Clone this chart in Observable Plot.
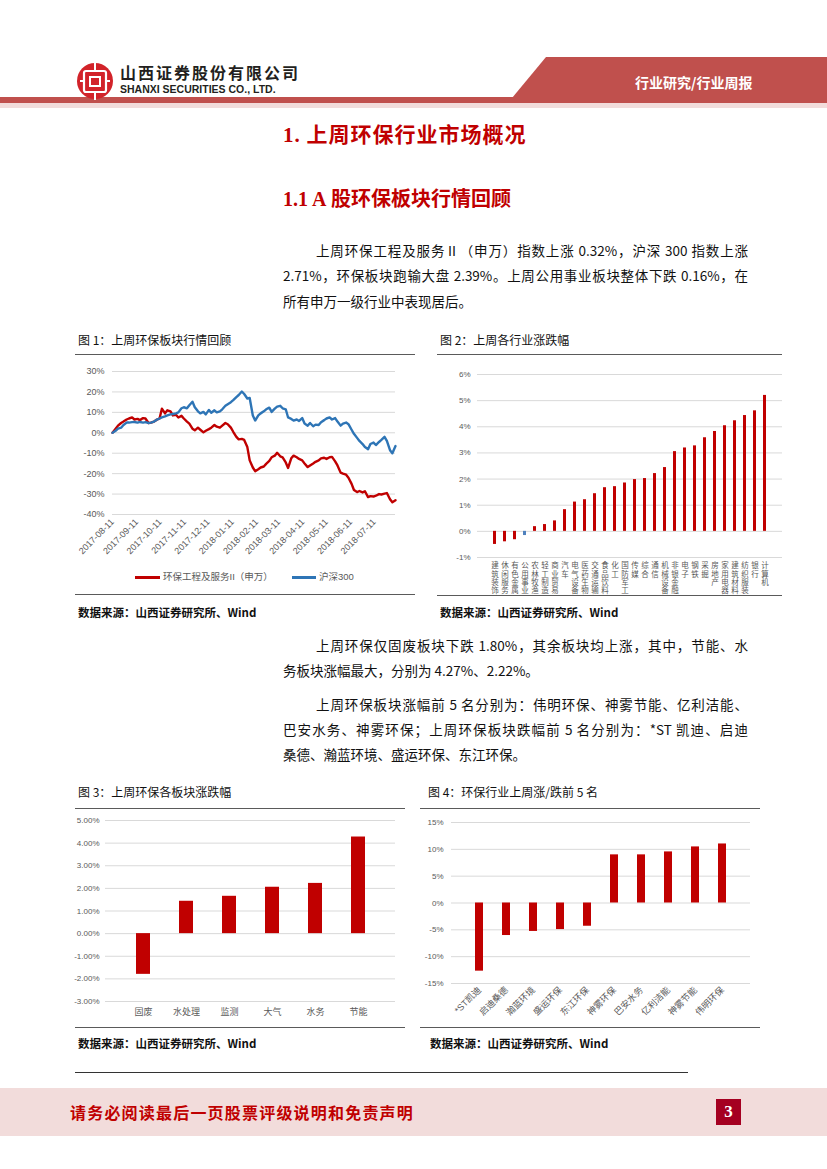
<!DOCTYPE html>
<html><head><meta charset="utf-8">
<script src="https://cdn.jsdelivr.net/npm/d3@7"></script>
<script src="https://cdn.jsdelivr.net/npm/@observablehq/plot@0.6"></script>
<style>
body{margin:0;background:#fff;}
#page{position:relative;width:827px;height:1169px;overflow:hidden;font-family:"Noto Sans CJK SC",sans-serif;background:#fff;}
.abs{position:absolute;white-space:nowrap;}
.p{position:absolute;font-size:13.5px;line-height:16px;height:16px;color:#111;white-space:nowrap;}
.j{text-align:justify;text-align-last:justify;}
.cap{position:absolute;font-size:12px;line-height:14px;color:#111;white-space:nowrap;}
.src{position:absolute;font-size:11.5px;line-height:14px;color:#111;white-space:nowrap;font-weight:bold;}
.hl{position:absolute;height:0;border-top:1.6px solid #5a5a5a;}
.chart{position:absolute;}
.leg{position:absolute;font-family:"Liberation Sans","Noto Sans CJK SC",sans-serif;font-size:9.5px;line-height:12px;color:#595959;white-space:nowrap;}
</style></head>
<body><div id="page">

<!-- header -->
<svg class="abs" style="left:0;top:0" width="827" height="115">
  <polygon points="546,57 827,57 827,98 512,98" fill="#c0504d"/>
  <rect x="0" y="97" width="827" height="6" fill="#c0504d"/>
  <rect x="0" y="103" width="827" height="5" fill="#f2dcdb"/>
  <circle cx="95" cy="81" r="18" fill="#d2232a"/>
  <rect x="84" y="71" width="22" height="21" rx="2" fill="none" stroke="#fff" stroke-width="2.2"/>
  <rect x="90" y="77" width="10" height="9" fill="none" stroke="#fff" stroke-width="2"/>
  <line x1="95" y1="62" x2="95" y2="71" stroke="#fff" stroke-width="2"/>
  <line x1="95" y1="92" x2="95" y2="100" stroke="#fff" stroke-width="2"/>
  <line x1="80" y1="81" x2="84" y2="81" stroke="#fff" stroke-width="2"/>
  <line x1="106" y1="81" x2="110" y2="81" stroke="#fff" stroke-width="2"/>
</svg>
<div class="abs" style="left:120px;top:62px;font-size:16px;line-height:20px;font-weight:bold;letter-spacing:2px;color:#231f20">山西证券股份有限公司</div>
<div class="abs" style="left:120px;top:82px;font-family:'Liberation Sans',sans-serif;font-size:10.5px;line-height:14px;font-weight:bold;color:#231f20">SHANXI SECURITIES CO., LTD.</div>
<div class="abs" style="left:635px;top:73px;font-size:14px;line-height:18px;font-weight:bold;color:#fff">行业研究/行业周报</div>

<!-- headings -->
<div class="abs" style="left:283px;top:120px;font-size:21px;line-height:26px;font-weight:bold;color:#c00000;letter-spacing:1px"><span style="font-family:'Liberation Serif',serif">1.</span> 上周环保行业市场概况</div>
<div class="abs" style="left:283px;top:185px;font-size:20px;line-height:26px;font-weight:bold;color:#c00000"><span style="font-family:'Liberation Serif',serif">1.1 A</span> 股环保板块行情回顾</div>

<!-- paragraph 1 -->
<div class="p j" style="left:316px;top:242px;width:432px">上周环保工程及服务Ⅱ（申万）指数上涨 0.32%，沪深 300 指数上涨</div>
<div class="p j" style="left:283px;top:267px;width:465px">2.71%，环保板块跑输大盘 2.39%。上周公用事业板块整体下跌 0.16%，在</div>
<div class="p" style="left:283px;top:293px">所有申万一级行业中表现居后。</div>

<!-- figure captions row 1 -->
<div class="cap" style="left:78px;top:333px">图 1：上周环保板块行情回顾</div>
<div class="cap" style="left:440px;top:333px">图 2：上周各行业涨跌幅</div>
<div class="hl" style="left:75px;top:354px;width:340px"></div>
<div class="hl" style="left:437px;top:354px;width:345px"></div>
<div id="c1" class="chart" style="left:75px;top:358px"></div>
<div id="c2" class="chart" style="left:437px;top:360px"></div>
<div style="position:absolute;left:135px;top:576px;width:25px;height:3px;background:#C00000"></div>
<div class="leg" style="left:163px;top:571px">环保工程及服务II（申万）</div>
<div style="position:absolute;left:292px;top:576px;width:24px;height:3px;background:#2E75B6"></div>
<div class="leg" style="left:319px;top:571px">沪深300</div>
<div class="hl" style="left:75px;top:594px;width:340px"></div>
<div class="hl" style="left:437px;top:595px;width:345px"></div>
<div class="src" style="left:78px;top:605px">数据来源：山西证券研究所、Wind</div>
<div class="src" style="left:440px;top:605px">数据来源：山西证券研究所、Wind</div>

<!-- paragraph 2,3 -->
<div class="p j" style="left:316px;top:637px;width:432px">上周环保仅固废板块下跌 1.80%，其余板块均上涨，其中，节能、水</div>
<div class="p" style="left:283px;top:662px">务板块涨幅最大，分别为 4.27%、2.22%。</div>
<div class="p j" style="left:316px;top:696px;width:432px">上周环保板块涨幅前 5 名分别为：伟明环保、神雾节能、亿利洁能、</div>
<div class="p j" style="left:283px;top:721px;width:465px">巴安水务、神雾环保；上周环保板块跌幅前 5 名分别为：*ST 凯迪、启迪</div>
<div class="p" style="left:283px;top:746px">桑德、瀚蓝环境、盛运环保、东江环保。</div>

<!-- figure captions row 2 -->
<div class="cap" style="left:78px;top:785px">图 3：上周环保各板块涨跌幅</div>
<div class="cap" style="left:428px;top:785px">图 4：环保行业上周涨/跌前 5 名</div>
<div class="hl" style="left:75px;top:808px;width:330px"></div>
<div class="hl" style="left:420px;top:808px;width:340px"></div>
<div id="c3" class="chart" style="left:68px;top:810px"></div>
<div id="c4" class="chart" style="left:420px;top:810px"></div>
<div class="hl" style="left:75px;top:1027px;width:330px"></div>
<div class="hl" style="left:420px;top:1027px;width:340px"></div>
<div class="src" style="left:78px;top:1036px">数据来源：山西证券研究所、Wind</div>
<div class="src" style="left:430px;top:1036px">数据来源：山西证券研究所、Wind</div>

<div style="position:absolute;left:75px;top:1072px;width:613px;border-top:1px solid #333"></div>

<!-- footer -->
<div style="position:absolute;left:0;top:1088px;width:827px;height:48px;background:#f2dcdb"></div>
<div class="abs" style="left:70px;top:1101px;font-size:16px;line-height:22px;font-weight:bold;color:#c00000;letter-spacing:1.2px">请务必阅读最后一页股票评级说明和免责声明</div>
<div style="position:absolute;left:716px;top:1099px;width:25px;height:26px;background:#a50021;color:#fff;font-family:'Liberation Serif',serif;font-weight:bold;font-size:17px;line-height:26px;text-align:center">3</div>

</div>
<script>
// ---------- Figure 1: line chart ----------
const c1Dates = ["2017-08-11","2017-08-15","2017-08-18","2017-08-22","2017-08-25","2017-08-29","2017-09-01","2017-09-05","2017-09-08","2017-09-12","2017-09-15","2017-09-19","2017-09-22","2017-09-26","2017-09-29","2017-10-03","2017-10-06","2017-10-10","2017-10-13","2017-10-17","2017-10-20","2017-10-24","2017-10-27","2017-10-31","2017-11-03","2017-11-07","2017-11-10","2017-11-14","2017-11-17","2017-11-21","2017-11-24","2017-11-28","2017-12-01","2017-12-05","2017-12-08","2017-12-12","2017-12-15","2017-12-19","2017-12-22","2017-12-26","2017-12-29","2018-01-02","2018-01-05","2018-01-09","2018-01-12","2018-01-16","2018-01-19","2018-01-23","2018-01-26","2018-01-30","2018-02-02","2018-02-06","2018-02-09","2018-02-13","2018-02-16","2018-02-20","2018-02-23","2018-02-27","2018-03-02","2018-03-06","2018-03-09","2018-03-13","2018-03-16","2018-03-20","2018-03-23","2018-03-27","2018-03-30","2018-04-03","2018-04-06","2018-04-10","2018-04-13","2018-04-17","2018-04-20","2018-04-24","2018-04-27","2018-05-01","2018-05-04","2018-05-08","2018-05-11","2018-05-15","2018-05-18","2018-05-22","2018-05-25","2018-05-29","2018-06-01","2018-06-05","2018-06-08","2018-06-12","2018-06-15","2018-06-19","2018-06-22","2018-06-26","2018-06-29","2018-07-03","2018-07-06","2018-07-10","2018-07-13","2018-07-17","2018-07-20","2018-07-24","2018-07-27","2018-07-31","2018-08-03","2018-08-07"];
const c1Env = [0,2.0,3.5,4.8,5.5,6.5,7.0,7.5,6.5,6.8,6.2,7.2,7.0,4.8,5.0,5.5,6.3,7.0,11.8,9.5,11.0,10.5,8.5,8.8,7.5,8.3,7.0,5.5,4.5,2.0,1.2,2.5,1.5,0.2,1.0,1.8,2.5,3.8,3.0,2.5,3.5,4.8,4.2,2.5,0.5,-2.0,-3.2,-3.0,-3.5,-7.0,-13.5,-17.0,-18.8,-17.8,-17.0,-16.5,-15.2,-13.8,-12.0,-11.2,-9.8,-11.5,-12.0,-14.5,-17.2,-12.5,-11.2,-12.0,-12.8,-13.5,-15.0,-16.8,-16.0,-15.0,-14.2,-13.5,-12.5,-12.2,-12.8,-12.0,-11.8,-14.0,-16.0,-19.5,-20.0,-20.5,-22.0,-25.0,-28.0,-29.0,-28.5,-29.2,-28.6,-31.5,-31.0,-31.2,-30.8,-30.0,-30.2,-29.8,-29.5,-32.5,-34.0,-33.0];
const c1HS300 = [0,1.0,2.0,2.5,3.8,5.0,5.0,5.2,5.3,5.0,5.3,5.0,5.2,4.8,5.0,5.5,6.3,7.0,7.5,8.0,8.5,9.0,9.2,9.5,10.0,12.0,12.5,12.0,13.5,15.2,12.5,10.5,9.5,10.2,9.0,11.2,9.8,11.0,10.0,10.5,11.5,13.2,14.0,15.0,16.0,17.5,18.5,20.2,19.0,16.8,17.0,8.5,6.0,8.5,9.5,10.5,11.5,12.3,10.2,11.8,12.8,13.2,12.0,11.5,7.5,6.8,6.0,6.5,5.8,7.2,4.5,3.5,4.8,3.2,4.0,3.8,5.2,6.2,7.0,7.5,6.5,7.2,5.5,3.5,4.5,5.0,4.2,1.5,-0.5,-2.5,-4.0,-5.5,-7.0,-8.0,-5.5,-4.8,-6.0,-4.5,-3.5,-2.0,-4.0,-8.5,-10.0,-6.5];
const c1TickDates = ["2017-08-11","2017-09-11","2017-10-11","2017-11-11","2017-12-11","2018-01-11","2018-02-11","2018-03-11","2018-04-11","2018-05-11","2018-06-11","2018-07-11"];
const c1YTicks = [-40,-30,-20,-10,0,10,20,30];

// ---------- Figure 2: industries ----------
const c2Industries = ["建筑装饰","休闲服务","有色金属","公用事业","农林牧渔","轻工制造","商业贸易","汽车","电气设备","医药生物","交通运输","食品饮料","化工","国防军工","传媒","综合","通信","机械设备","非银金融","电子","钢铁","采掘","房地产","家用电器","建筑材料","纺织服装","银行","计算机"];
const c2Change = [-0.50,-0.40,-0.32,-0.16,0.18,0.26,0.40,0.83,1.12,1.21,1.44,1.67,1.71,1.85,1.98,2.02,2.21,2.44,3.05,3.19,3.27,3.58,3.82,4.04,4.23,4.43,4.61,5.20];
const c2Highlight = "公用事业";
const c2YTicks = [-1,0,1,2,3,4,5,6];

// ---------- Figure 3: sub-sectors ----------
const c3Sectors = ["固废","水处理","监测","大气","水务","节能"];
const c3Change = [-1.80,1.43,1.65,2.05,2.22,4.27];
const c3YTicks = [-3,-2,-1,0,1,2,3,4,5];

// ---------- Figure 4: top/bottom 5 ----------
const c4Stocks = ["*ST凯迪","启迪桑德","瀚蓝环境","盛运环保","东江环保","神雾环保","巴安水务","亿利洁能","神雾节能","伟明环保"];
const c4Change = [-12.7,-6.06,-5.3,-4.95,-4.33,8.97,8.97,9.52,10.45,11.0];
const c4YTicks = [-15,-10,-5,0,5,10,15];

const FONT = '"Liberation Sans","Noto Sans CJK SC",sans-serif';
const RED = "#C00000", BLUE = "#2E75B6", GRID = "#d9d9d9", TXT = "#595959";
const parse = d3.utcParse("%Y-%m-%d");

const c1Data = c1Dates.map((d, i) => ({date: parse(d), env: c1Env[i], hs: c1HS300[i]}));
const chart1 = Plot.plot({
  width: 340, height: 200, marginLeft: 37, marginRight: 20, marginTop: 13, marginBottom: 44,
  style: {fontFamily: FONT, fontSize: "9px", color: TXT, background: "transparent"},
  x: {type: "utc", domain: [parse(c1Dates[0]), parse(c1Dates[c1Dates.length - 1])], label: null},
  y: {domain: [-40, 30], label: null},
  marks: [
    Plot.ruleY(c1YTicks, {stroke: GRID, strokeWidth: 1}),
    Plot.axisY({ticks: c1YTicks, tickFormat: d => d + "%", tickSize: 0, tickPadding: 8, label: null}),
    Plot.axisX({ticks: c1TickDates.map(parse), tickFormat: d3.utcFormat("%Y-%m-%d"), tickRotate: -45, tickSize: 0, tickPadding: 6, label: null}),
    Plot.lineY(c1Data, {x: "date", y: "env", stroke: RED, strokeWidth: 2.4}),
    Plot.lineY(c1Data, {x: "date", y: "hs", stroke: BLUE, strokeWidth: 2.4})
  ]
});
document.getElementById("c1").append(chart1);

const c2Data = c2Industries.map((n, i) => ({name: n, v: c2Change[i]}));
const chart2 = Plot.plot({
  width: 350, height: 235, marginLeft: 40, marginRight: 5, marginTop: 14, marginBottom: 38,
  style: {fontFamily: FONT, fontSize: "7.5px", color: TXT, background: "transparent"},
  x: {domain: c2Industries, padding: 0.72, label: null},
  y: {domain: [-1, 6], label: null},
  color: {type: "identity"},
  marks: [
    Plot.ruleY(c2YTicks, {stroke: GRID, strokeWidth: 1}),
    Plot.axisY({ticks: c2YTicks, tickFormat: d => d + "%", tickSize: 0, tickPadding: 7, fontSize: 8, label: null}),
    Plot.axisX({tickSize: 0, tickPadding: 5, tickFormat: d => Array.from(d).join("\n"), lineHeight: 1.1, label: null}),
    Plot.barY(c2Data, {x: "name", y: "v", fill: d => d.name === c2Highlight ? "#4F81BD" : RED})
  ]
});
document.getElementById("c2").append(chart2);

const c3Data = c3Sectors.map((n, i) => ({name: n, v: c3Change[i]}));
const chart3 = Plot.plot({
  width: 337, height: 215, marginLeft: 37, marginRight: 10, marginTop: 10, marginBottom: 24,
  style: {fontFamily: FONT, fontSize: "8px", color: TXT, background: "transparent"},
  x: {domain: c3Sectors, padding: 0.68, label: null},
  y: {domain: [-3, 5], label: null},
  marks: [
    Plot.ruleY(c3YTicks, {stroke: GRID, strokeWidth: 1}),
    Plot.axisY({ticks: c3YTicks, tickFormat: d => d.toFixed(2) + "%", tickSize: 0, tickPadding: 6, label: null}),
    Plot.axisX({tickSize: 0, tickPadding: 7, fontSize: 9, label: null}),
    Plot.barY(c3Data, {x: "name", y: "v", fill: RED})
  ]
});
document.getElementById("c3").append(chart3);

const c4Data = c4Stocks.map((n, i) => ({name: n, v: c4Change[i]}));
const chart4 = Plot.plot({
  width: 340, height: 215, marginLeft: 31, marginRight: 10, marginTop: 12, marginBottom: 42,
  style: {fontFamily: FONT, fontSize: "8px", color: TXT, background: "transparent"},
  x: {domain: c4Stocks, padding: 0.7, label: null},
  y: {domain: [-15, 15], label: null},
  marks: [
    Plot.ruleY(c4YTicks, {stroke: GRID, strokeWidth: 1}),
    Plot.axisY({ticks: c4YTicks, tickFormat: d => d + "%", tickSize: 0, tickPadding: 8, label: null}),
    Plot.axisX({tickSize: 0, tickPadding: 5, tickRotate: -45, fontSize: 9, label: null}),
    Plot.barY(c4Data, {x: "name", y: "v", fill: RED})
  ]
});
document.getElementById("c4").append(chart4);
</script>
</body></html>
